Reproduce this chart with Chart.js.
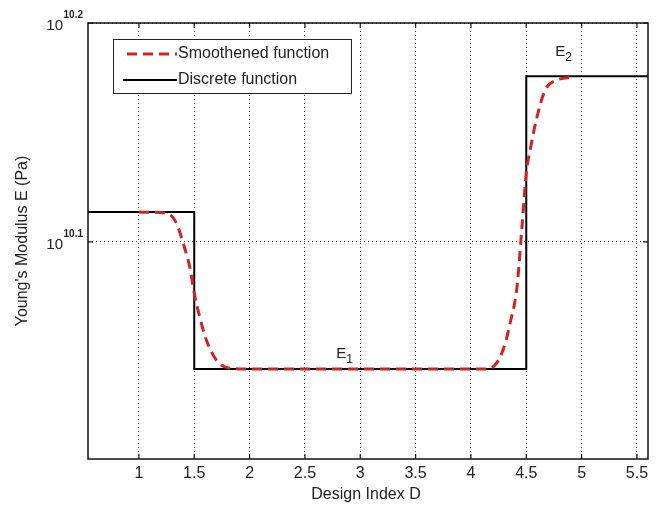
<!DOCTYPE html>
<html>
<head>
<meta charset="utf-8">
<script src="https://cdn.jsdelivr.net/npm/chart.js@4.4.0/dist/chart.umd.min.js"></script>
<style>
	html, body { margin: 0; padding: 0; background: #fff; }
	#wrap { width: 656px; height: 505px; position: relative; }
	canvas { display: block; }
</style>
</head>
<body>
<div id="wrap"><canvas id="chart" width="656" height="505"></canvas></div>
<script>
// x positions and log10 exponents of E
const discreteX = [0.54, 1.5, 1.5, 4.5, 4.5, 5.6]
const discreteExp = [10.1136, 10.1136, 10.0419, 10.0419, 10.1757, 10.1757]

const smoothX = [1.0, 1.25, 1.34, 1.40, 1.46, 1.50, 1.55, 1.61, 1.70, 1.82, 2.0, 3.0, 4.0, 4.16, 4.25, 4.31, 4.36, 4.40, 4.42, 4.46, 4.50, 4.54, 4.59, 4.67, 4.77, 4.93]
const smoothExp = [10.1136, 10.1131, 10.1085, 10.0994, 10.0884, 10.0766, 10.0656, 10.0551, 10.046, 10.0423, 10.0419, 10.0419, 10.0419, 10.042, 10.046, 10.0537, 10.0642, 10.0734, 10.0811, 10.106, 10.1313, 10.1432, 10.1556, 10.1693, 10.1738, 10.1752]

const xTicks = [1, 1.5, 2, 2.5, 3, 3.5, 4, 4.5, 5, 5.5]
const yTickExp = [10.1, 10.2]
const labelE1 = { x: 2.81, exp: 10.0469, sub: '1' }
const labelE2 = { x: 4.79, exp: 10.1848, sub: '2' }

const FONT = '"Liberation Sans", Arial, Helvetica, sans-serif'
const RED = '#d02424'
const toPoints = (xs, es) => xs.map((x, i) => ({ x: x, y: Math.pow(10, es[i]) }))

//draws box, inward ticks, tick labels, axis titles, legend and E labels
const decorations = {
	id: 'decorations',
	afterDatasetsDraw: chart => {
		const ctx = chart.ctx
		const a = chart.chartArea
		const xs = chart.scales.x
		const ys = chart.scales.y

		ctx.save()
		//box
		ctx.strokeStyle = '#111'
		ctx.lineWidth = 1.5
		ctx.strokeRect(a.left, a.top, a.right - a.left, a.bottom - a.top)

		//inward tick marks
		ctx.lineWidth = 1.2
		ctx.beginPath()
		for (const t of xTicks) {
			const px = xs.getPixelForValue(t)
			ctx.moveTo(px, a.bottom)
			ctx.lineTo(px, a.bottom - 5)
			ctx.moveTo(px, a.top)
			ctx.lineTo(px, a.top + 5)
		}
		for (const e of yTickExp) {
			const py = ys.getPixelForValue(Math.pow(10, e))
			ctx.moveTo(a.left, py)
			ctx.lineTo(a.left + 5, py)
			ctx.moveTo(a.right, py)
			ctx.lineTo(a.right - 5, py)
		}
		ctx.stroke()

		//x tick labels
		ctx.fillStyle = '#222'
		ctx.font = `16px ${FONT}`
		ctx.textAlign = 'center'
		ctx.textBaseline = 'middle'
		for (const t of xTicks) {
			ctx.fillText(String(t), xs.getPixelForValue(t), 474)
		}

		//y tick labels with superscripts
		ctx.textBaseline = 'alphabetic'
		for (const e of yTickExp) {
			const py = ys.getPixelForValue(Math.pow(10, e))
			const sup = e.toFixed(1)
			ctx.font = `bold 10px ${FONT}`
			const supW = ctx.measureText(sup).width
			ctx.textAlign = 'right'
			ctx.fillText(sup, 83, py - 5)
			ctx.font = `15px ${FONT}`
			ctx.fillText('10', 83 - supW - 0.5, py + 7)
		}

		//axis titles
		ctx.font = `16px ${FONT}`
		ctx.textAlign = 'center'
		ctx.textBaseline = 'middle'
		ctx.fillText('Design Index D', (a.left + a.right) / 2 - 2, 495)
		ctx.save()
		ctx.translate(23, (a.top + a.bottom) / 2)
		ctx.rotate(-Math.PI / 2)
		ctx.fillText("Young's Modulus E (Pa)", 0, 0)
		ctx.restore()

		//E labels
		for (const l of [labelE1, labelE2]) {
			const px = xs.getPixelForValue(l.x)
			const py = ys.getPixelForValue(Math.pow(10, l.exp))
			ctx.textAlign = 'left'
			ctx.textBaseline = 'alphabetic'
			ctx.font = `15px ${FONT}`
			ctx.fillText('E', px - 3, py)
			const w = ctx.measureText('E').width
			ctx.font = `12px ${FONT}`
			ctx.fillText(l.sub, px - 3 + w, py + 5)
		}

		//legend
		ctx.fillStyle = '#fff'
		ctx.fillRect(113, 39, 238, 54)
		ctx.strokeStyle = '#222'
		ctx.lineWidth = 1
		ctx.strokeRect(113.5, 39.5, 238, 54)

		ctx.lineWidth = 3
		ctx.strokeStyle = RED
		ctx.setLineDash([10, 6])
		ctx.beginPath()
		ctx.moveTo(127, 54)
		ctx.lineTo(177, 54)
		ctx.stroke()
		ctx.setLineDash([])
		ctx.strokeStyle = '#000'
		ctx.lineWidth = 2
		ctx.beginPath()
		ctx.moveTo(123, 80)
		ctx.lineTo(177, 80)
		ctx.stroke()

		ctx.fillStyle = '#222'
		ctx.font = `16px ${FONT}`
		ctx.textAlign = 'left'
		ctx.textBaseline = 'middle'
		ctx.fillText('Smoothened function', 178, 54)
		ctx.fillText('Discrete function', 178, 80)
		ctx.restore()
	},
}

const ctx = document.querySelector('#chart').getContext('2d')
new Chart(ctx, {
	type: 'line',
	data: {
		datasets: [
			{
				label: 'Smoothened function',
				data: toPoints(smoothX, smoothExp),
				borderColor: RED,
				borderWidth: 3,
				borderDash: [10, 6],
				cubicInterpolationMode: 'monotone',
				pointRadius: 0,
				fill: false,
			},
			{
				label: 'Discrete function',
				data: toPoints(discreteX, discreteExp),
				borderColor: '#000',
				borderWidth: 2,
				tension: 0,
				pointRadius: 0,
				fill: false,
			},
		],
	},
	options: {
		responsive: false,
		animation: false,
		devicePixelRatio: 1,
		layout: { padding: { left: 88, right: 8, top: 23, bottom: 46 } },
		plugins: { legend: { display: false }, tooltip: { enabled: false } },
		scales: {
			x: {
				type: 'linear',
				min: 0.54,
				max: 5.6,
				afterBuildTicks: s => {
					s.ticks = xTicks.map(v => ({ value: v }))
				},
				afterFit: s => {
					s.height = 0
				},
				grid: { color: '#444', lineWidth: 1, drawTicks: false },
				border: { display: false, dash: [1, 3] },
				ticks: { display: false },
			},
			y: {
				type: 'logarithmic',
				min: Math.pow(10, 10.0008),
				max: Math.pow(10, 10.2),
				afterBuildTicks: s => {
					s.ticks = yTickExp.map(e => ({ value: Math.pow(10, e) }))
				},
				afterFit: s => {
					s.width = 0
				},
				grid: { color: '#444', lineWidth: 1, drawTicks: false },
				border: { display: false, dash: [1, 3] },
				ticks: { display: false },
			},
		},
	},
	plugins: [decorations],
})
</script>
</body>
</html>
